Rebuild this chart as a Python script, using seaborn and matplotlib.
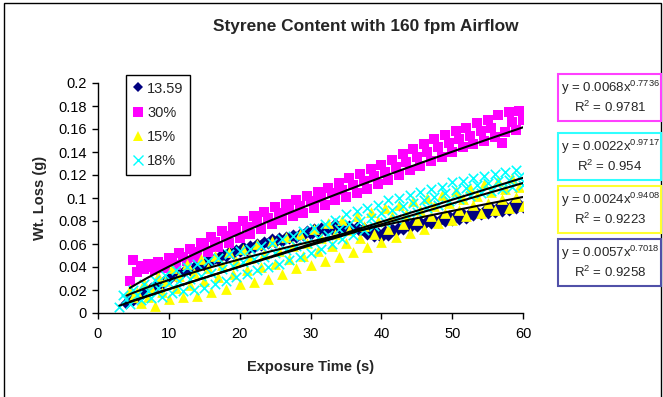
import numpy as np
import pandas as pd
import matplotlib
matplotlib.use("Agg")
import matplotlib.pyplot as plt
import seaborn as sns
from matplotlib.patches import Rectangle
from matplotlib.lines import Line2D
from matplotlib.ticker import FixedLocator, FuncFormatter

nan = float("nan")

# ---------------- data ----------------
time_s = [3.0, 3.5, 4.0, 4.5, 5.0, 5.5, 6.0, 6.5, 7.0, 7.5,
          8.0, 8.5, 9.0, 9.5, 10.0, 10.5, 11.0, 11.5, 12.0, 12.5,
          13.0, 13.5, 14.0, 14.5, 15.0, 15.5, 16.0, 16.5, 17.0, 17.5,
          18.0, 18.5, 19.0, 19.5, 20.0, 20.5, 21.0, 21.5, 22.0, 22.5,
          23.0, 23.5, 24.0, 24.5, 25.0, 25.5, 26.0, 26.5, 27.0, 27.5,
          28.0, 28.5, 29.0, 29.5, 30.0, 30.5, 31.0, 31.5, 32.0, 32.5,
          33.0, 33.5, 34.0, 34.5, 35.0, 35.5, 36.0, 36.5, 37.0, 37.5,
          38.0, 38.5, 39.0, 39.5, 40.0, 40.5, 41.0, 41.5, 42.0, 42.5,
          43.0, 43.5, 44.0, 44.5, 45.0, 45.5, 46.0, 46.5, 47.0, 47.5,
          48.0, 48.5, 49.0, 49.5, 50.0, 50.5, 51.0, 51.5, 52.0, 52.5,
          53.0, 53.5, 54.0, 54.5, 55.0, 55.5, 56.0, 56.5, 57.0, 57.5,
          58.0, 58.5, 59.0, 59.5, 60.0]

loss_1359 = [nan, nan,
             0.009, 0.012, 0.011, 0.015, 0.016, 0.019, 0.018, 0.022, 0.023, 0.026,
             0.025, 0.029, 0.030, 0.033, 0.032, 0.035, 0.036, 0.038, 0.037, 0.040,
             0.041, 0.043, 0.042, 0.046, 0.045, 0.048, 0.047, 0.051, 0.050, 0.053,
             0.052, 0.055, 0.054, 0.057, 0.055, 0.058, 0.057, 0.060, 0.059, 0.062,
             0.061, 0.064, 0.062, 0.065, 0.063, 0.066, 0.065, 0.068, 0.066, 0.069,
             0.068, 0.071, 0.069, 0.073, 0.071, 0.074, 0.072, 0.075, 0.073, 0.077,
             0.074, 0.077, 0.073, 0.076, 0.072, 0.075, 0.071, 0.074, 0.069, 0.072,
             0.067, 0.070, 0.066, 0.071, 0.068, 0.073, 0.071, 0.075, 0.073, 0.077,
             0.075, 0.078, 0.076, 0.079, 0.077, 0.080, 0.078, 0.081, 0.079, 0.083,
             0.080, 0.084, 0.081, 0.085, 0.082, 0.086, 0.083, 0.087, 0.085, 0.088,
             0.086, 0.089, 0.087, 0.091, 0.088, 0.092, 0.089, 0.093, 0.090, 0.094,
             0.091, 0.095, 0.092]

loss_30 = [nan, nan, nan,
           0.028, 0.046, 0.036, 0.041, 0.038, 0.043, 0.040, 0.037, 0.044, 0.042,
           0.039, 0.048, 0.045, 0.042, 0.052, 0.049, 0.045, 0.056, 0.053, 0.049,
           0.061, 0.058, 0.053, 0.066, 0.062, 0.057, 0.071, 0.067, 0.061, 0.075,
           0.071, 0.065, 0.080, 0.075, 0.069, 0.084, 0.079, 0.073, 0.088, 0.083,
           0.077, 0.092, 0.087, 0.081, 0.095, 0.090, 0.084, 0.098, 0.093, 0.087,
           0.102, 0.097, 0.091, 0.105, 0.100, 0.094, 0.109, 0.104, 0.098, 0.113,
           0.107, 0.101, 0.117, 0.111, 0.104, 0.121, 0.115, 0.108, 0.125, 0.119,
           0.112, 0.129, 0.123, 0.116, 0.133, 0.127, 0.120, 0.138, 0.131, 0.124,
           0.143, 0.136, 0.128, 0.147, 0.140, 0.132, 0.151, 0.144, 0.136, 0.155,
           0.148, 0.140, 0.158, 0.151, 0.144, 0.161, 0.154, 0.147, 0.165, 0.158,
           0.150, 0.168, 0.161, 0.153, 0.172, 0.148, 0.157, 0.175, 0.166, 0.159,
           0.176, 0.168]

loss_15 = [nan, nan, nan,
           0.021, 0.014, 0.018, 0.009, 0.026, 0.014, 0.022, 0.006, 0.032, 0.018,
           0.028, 0.012, 0.039, 0.022, 0.032, 0.014, 0.043, 0.024, 0.035, 0.015,
           0.047, 0.028, 0.039, 0.018, 0.050, 0.031, 0.042, 0.021, 0.053, 0.034,
           0.045, 0.025, 0.056, 0.037, 0.048, 0.027, 0.060, 0.040, 0.051, 0.030,
           0.063, 0.043, 0.054, 0.034, 0.066, 0.047, 0.058, 0.039, 0.069, 0.050,
           0.061, 0.042, 0.073, 0.054, 0.065, 0.045, 0.078, 0.058, 0.069, 0.049,
           0.081, 0.061, 0.072, 0.053, 0.084, 0.065, 0.076, 0.057, 0.088, 0.069,
           0.080, 0.062, 0.091, 0.073, 0.084, 0.066, 0.094, 0.077, 0.086, 0.070,
           0.097, 0.081, 0.090, 0.073, 0.100, 0.084, 0.093, 0.078, 0.103, 0.087,
           0.096, 0.081, 0.106, 0.090, 0.099, 0.084, 0.109, 0.094, 0.102, 0.087,
           0.112, 0.096, 0.105, 0.090, 0.115, 0.099, 0.108, 0.091, 0.117, 0.101,
           0.110, 0.093]

loss_18 = [0.005, 0.016, 0.012, 0.008, 0.020, 0.016, 0.011, 0.025, 0.019, 0.013,
           0.029, 0.022, 0.014, 0.033, 0.026, 0.017, 0.037, 0.028, 0.019, 0.040,
           0.030, 0.020, 0.043, 0.032, 0.022, 0.045, 0.035, 0.025, 0.048, 0.038,
           0.028, 0.051, 0.041, 0.031, 0.054, 0.044, 0.034, 0.056, 0.047, 0.037,
           0.058, 0.049, 0.040, 0.061, 0.052, 0.043, 0.064, 0.055, 0.046, 0.067,
           0.058, 0.049, 0.071, 0.061, 0.052, 0.074, 0.065, 0.056, 0.077, 0.068,
           0.060, 0.081, 0.073, 0.064, 0.086, 0.077, 0.068, 0.089, 0.080, 0.072,
           0.091, 0.083, 0.076, 0.094, 0.087, 0.079, 0.098, 0.090, 0.082, 0.100,
           0.093, 0.085, 0.103, 0.096, 0.088, 0.105, 0.098, 0.091, 0.108, 0.101,
           0.094, 0.110, 0.104, 0.097, 0.114, 0.107, 0.099, 0.115, 0.109, 0.102,
           0.117, 0.111, 0.104, 0.119, 0.113, 0.106, 0.121, 0.115, 0.108, 0.123,
           0.116, 0.110, 0.124, 0.118, 0.111]

series_names = ["13.59", "30%", "15%", "18%"]
series_values = [loss_1359, loss_30, loss_15, loss_18]
series_colors = ["#000080", "#FF00FF", "#FFFF00", "#00FFFF"]
series_markers = ["D", "s", "^", "x"]
series_sizes = [38, 56, 60, 46]

# power trendline coefficients shown on the chart (y = a x^b)
fit_a = ["0.0057", "0.0068", "0.0024", "0.0022"]
fit_b = ["0.7018", "0.7736", "0.9408", "0.9717"]
fit_r2 = ["0.9258", "0.9781", "0.9223", "0.954"]
box_edge = ["#5050A8", "#FF40FF", "#FFFF30", "#30FFFF"]
# label boxes listed top to bottom: 30%, 18%, 15%, 13.59
box_order = [1, 3, 2, 0]

x_ticks = [0, 10, 20, 30, 40, 50, 60]
y_ticks = [0, 0.02, 0.04, 0.06, 0.08, 0.1, 0.12, 0.14, 0.16, 0.18, 0.2]

# ---------------- figure ----------------
sns.set_style("white")
plt.rcParams["font.family"] = ["Liberation Sans", "DejaVu Sans"]
plt.rcParams["mathtext.default"] = "regular"

W, H = 663, 397
fig = plt.figure(figsize=(W / 100, H / 100), dpi=100)

def fx(px):
    return px / W

def fy(py):
    return 1 - py / H

ax = fig.add_axes([fx(98), fy(313), fx(523) - fx(98), fy(83) - fy(313)])

df = pd.DataFrame({"t": time_s})
for name, vals in zip(series_names, series_values):
    df[name] = vals

for name, col, mk, sz in zip(series_names, series_colors, series_markers, series_sizes):
    sub = df[["t", name]].dropna()
    if mk == "x":
        sns.scatterplot(data=sub, x="t", y=name, marker=mk, color=col, s=sz,
                        linewidth=1.2, ax=ax, legend=False, zorder=2)
    else:
        sns.scatterplot(data=sub, x="t", y=name, marker=mk, color=col, s=sz,
                        linewidth=0, edgecolor=col, ax=ax, legend=False, zorder=2)

# trendlines from the chart's stated power-law coefficients
for name, a, b in zip(series_names, fit_a, fit_b):
    sub = df[["t", name]].dropna()
    xs = np.linspace(sub["t"].min(), sub["t"].max(), 200)
    ys = float(a) * xs ** float(b)
    sns.lineplot(x=xs, y=ys, color="black", linewidth=1.5, ax=ax, zorder=3)

ax.set_xlim(0, 60)
ax.set_ylim(0, 0.2)
ax.xaxis.set_major_locator(FixedLocator(x_ticks))
ax.yaxis.set_major_locator(FixedLocator(y_ticks))
ax.yaxis.set_major_formatter(FuncFormatter(lambda v, p: f"{v:g}"))
for s in ["top", "right"]:
    ax.spines[s].set_visible(False)
for s in ["left", "bottom"]:
    ax.spines[s].set_color("black")
    ax.spines[s].set_linewidth(1.0)
ax.tick_params(axis="both", direction="out", length=4, width=1, colors="black",
               labelsize=10.5, bottom=True, left=True)
ax.tick_params(axis="x", pad=6)
ax.tick_params(axis="y", pad=4)
ax.set_xlabel("Exposure Time (s)", fontsize=10.5, fontweight="bold", labelpad=14)
ax.set_ylabel("Wt. Loss (g)", fontsize=10.5, fontweight="bold", labelpad=8)
ax.set_facecolor("white")

fig.text(fx(366), fy(26), "Styrene Content with 160 fpm Airflow", ha="center",
         va="center", fontsize=12.4, fontweight="bold")

# legend
handles = []
for name, col, mk in zip(series_names, series_colors, series_markers):
    if mk == "x":
        h = Line2D([], [], linestyle="none", marker=mk, color=col, markersize=6.5,
                   markeredgewidth=1.0)
    else:
        h = Line2D([], [], linestyle="none", marker=mk, color=col,
                   markersize=6.5 if mk != "D" else 5.5, markeredgewidth=0)
    handles.append(h)
leg = fig.legend(handles, series_names, loc="upper left",
                 bbox_to_anchor=(fx(126), fy(75)), bbox_transform=fig.transFigure,
                 fontsize=10.5, frameon=True, fancybox=False, framealpha=1,
                 edgecolor="black", borderpad=0.45, labelspacing=0.7,
                 handlelength=0.7, handletextpad=0.3, borderaxespad=0)
leg.get_frame().set_linewidth(1.0)

# trendline label boxes
box_tops = [74, 133, 186, 239]
box_h = 47
for top, idx in zip(box_tops, box_order):
    rect = Rectangle((fx(558), fy(top + box_h)), fx(661) - fx(558), box_h / H,
                     transform=fig.transFigure, facecolor="white",
                     edgecolor=box_edge[idx], linewidth=1.5, zorder=5)
    fig.patches.append(rect)
    fig.text(fx(610), fy(top + 14), f"y = {fit_a[idx]}x$^{{{fit_b[idx]}}}$",
             ha="center", va="center", fontsize=9.5, zorder=6)
    fig.text(fx(610), fy(top + 33), f"R$^{{2}}$ = {fit_r2[idx]}",
             ha="center", va="center", fontsize=9.5, zorder=6)

# chart area border
border = Rectangle((fx(4), fy(400)), fx(661) - fx(4), (400 - 3) / H,
                   transform=fig.transFigure, facecolor="none", edgecolor="black",
                   linewidth=1.0, zorder=0)
fig.patches.append(border)

fig.savefig("out.png", dpi=100)
